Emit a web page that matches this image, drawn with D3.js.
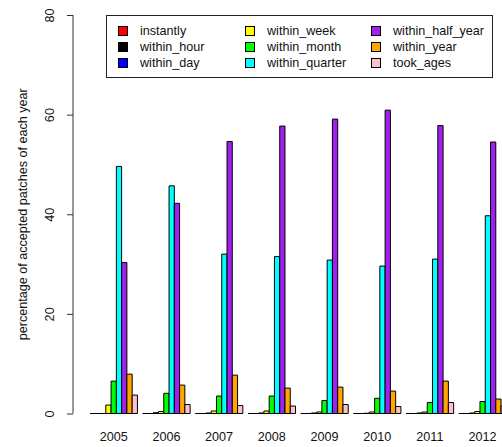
<!DOCTYPE html>
<html>
<head>
<meta charset="utf-8">
<script src="https://cdn.jsdelivr.net/npm/d3@7"></script>
<style>
  html, body { margin: 0; padding: 0; background: #fff; }
  svg { display: block; font-family: "Liberation Sans", Arial, Helvetica, sans-serif; }
</style>
</head>
<body>
<svg id="chart" width="502" height="447"></svg>
<script>
// Years on the x axis
const years = ["2005", "2006", "2007", "2008", "2009", "2010", "2011", "2012"];

// Acceptance-latency categories, in bar order within each year
const categories = ["instantly", "within_hour", "within_day", "within_week", "within_month",
                    "within_quarter", "within_half_year", "within_year", "took_ages"];
const categoryColors = ["#FF0000", "#000000", "#0000FF", "#FFFF00", "#00FF00",
                        "#00FFFF", "#A020F0", "#FFA500", "#FFC0CB"];

// Percentage of accepted patches per year, one array per category
const instantly        = [0, 0, 0, 0, 0, 0, 0, 0];
const within_hour      = [0, 0, 0, 0, 0, 0, 0, 0];
const within_day       = [0, 0.15, 0.1, 0.1, 0.1, 0.05, 0.1, 0.1];
const within_week      = [1.7, 0.4, 0.5, 0.5, 0.3, 0.3, 0.3, 0.4];
const within_month     = [6.5, 4.05, 3.5, 3.5, 2.6, 3.05, 2.2, 2.4];
const within_quarter   = [49.6, 45.7, 32.0, 31.5, 30.8, 29.6, 31.0, 39.7];
const within_half_year = [30.3, 42.2, 54.6, 57.7, 59.1, 60.9, 57.8, 54.5];
const within_year      = [7.9, 5.7, 7.7, 5.1, 5.3, 4.5, 6.5, 2.9];
const took_ages        = [3.7, 1.8, 1.6, 1.5, 1.8, 1.4, 2.2, 1.5];

const yTicks = [0, 20, 40, 60, 80];
const yLabel = "percentage of accepted patches of each year";

const series = [instantly, within_hour, within_day, within_week, within_month,
                within_quarter, within_half_year, within_year, took_ages];

const svg = d3.select("#chart");
const fontSize = 12.6;

// Bars are laid out in "bar units": each year is 9 bars wide with a gap of one bar before it.
const groupSize = categories.length + 1;
const x = d3.scaleLinear().domain([0, 81]).range([84.73, 84.73 + 81 * 5.27]);
const y = d3.scaleLinear().domain([0, 80]).range([413.5, 15]);

const bars = [];
years.forEach((yr, g) => {
  categories.forEach((c, i) => {
    bars.push({ g, i, value: series[i][g], color: categoryColors[i] });
  });
});

// Bars are drawn as closed paths so zero-height bars still show their outline
svg.append("g")
  .selectAll("path")
  .data(bars)
  .join("path")
  .attr("d", d => {
    const u = 1 + d.g * groupSize + d.i;
    const x0 = x(u), x1 = x(u + 1);
    const y0 = y(0), y1 = y(d.value);
    return `M${x0},${y0}V${y1}H${x1}V${y0}Z`;
  })
  .attr("fill", d => d.color)
  .attr("stroke", "#000")
  .attr("stroke-width", 1);

// Y axis
const yAxis = d3.axisLeft(y).tickValues(yTicks).tickSize(6).tickPadding(0);
const gy = svg.append("g").attr("transform", "translate(73,0)").call(yAxis);
gy.select(".domain").attr("d", `M0,${y(0)}V${y(80)}`).attr("stroke", "#333");
gy.selectAll(".tick line").attr("stroke", "#333");
gy.selectAll(".tick text")
  .attr("transform", d => `translate(-23,${0}) rotate(-90)`)
  .attr("x", 0).attr("y", 0).attr("dy", "0.35em")
  .attr("text-anchor", "middle")
  .attr("fill", "#111")
  .style("font-size", fontSize + "px")
  .style("font-family", "'Liberation Sans', Arial, sans-serif");

// Y axis title
svg.append("text")
  .attr("transform", `translate(22.5,${(y(0) + y(80)) / 2}) rotate(-90)`)
  .attr("text-anchor", "middle")
  .attr("dy", "0.35em")
  .attr("fill", "#111")
  .style("font-size", fontSize + "px")
  .text(yLabel);

// Year labels under each group
svg.append("g")
  .selectAll("text")
  .data(years)
  .join("text")
  .attr("x", (d, g) => x(1 + g * groupSize + categories.length / 2))
  .attr("y", 437)
  .attr("dy", "0.35em")
  .attr("text-anchor", "middle")
  .attr("fill", "#111")
  .style("font-size", fontSize + "px")
  .text(d => d);

// Legend: three columns of three entries
const legend = svg.append("g");
legend.append("rect")
  .attr("x", 106.5).attr("y", 15.5)
  .attr("width", 386).attr("height", 62)
  .attr("fill", "#fff").attr("stroke", "#222").attr("stroke-width", 1);

const colX = [118.5, 245.5, 371.5];
const rowY = [31, 47, 63];
categories.forEach((c, i) => {
  const col = Math.floor(i / 3), row = i % 3;
  legend.append("rect")
    .attr("x", colX[col]).attr("y", rowY[row] - 4.5)
    .attr("width", 9).attr("height", 9)
    .attr("fill", categoryColors[i]).attr("stroke", "#000").attr("stroke-width", 1);
  legend.append("text")
    .attr("x", colX[col] + 21.5).attr("y", rowY[row])
    .attr("dy", "0.35em")
    .attr("fill", "#111")
    .style("font-size", fontSize + "px")
    .text(c);
});
</script>
</body>
</html>
